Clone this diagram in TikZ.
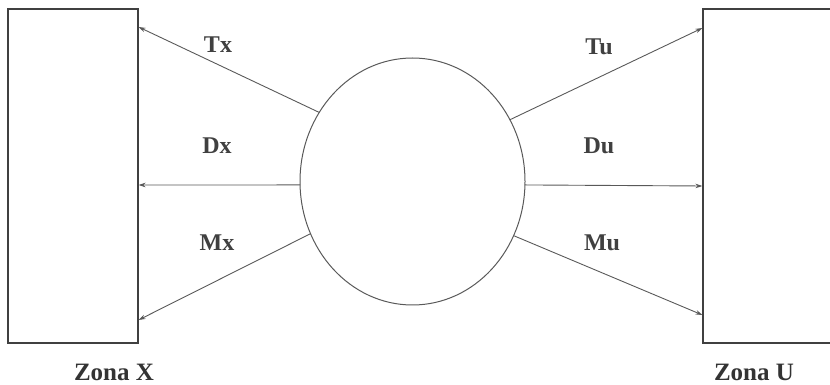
\documentclass[tikz,border=0pt]{standalone}
\usepackage{fontspec}
\setmainfont{Liberation Serif}
\usetikzlibrary{arrows.meta,shapes.geometric}
\begin{document}
\begin{tikzpicture}[x=1pt,y=1pt,
  zone/.style={draw=black!75,line width=1.1pt,minimum height=334pt,inner sep=0pt},
  flow/.style={draw=black!65,line width=0.9pt,-{Stealth[length=7pt,width=4.5pt]}},
  lbl/.style={font=\bfseries\fontsize{24}{28}\selectfont,text=black!75},
  zlbl/.style={font=\bfseries\fontsize{25}{29}\selectfont,text=black!80,inner sep=0pt}]
\useasboundingbox (0,0) rectangle (830,385);
\begin{scope}
\clip (0,0) rectangle (830,385);
\node[zone,minimum width=130pt] (L) at (73,209) {};
\node[zone,minimum width=137pt] (R) at (771.5,209) {};
\end{scope}
\node[draw=black!65,line width=1pt,ellipse,minimum width=225pt,minimum height=247pt,inner sep=0pt] (E) at (412.5,203.5) {};
\coordinate (eT) at ([shift={(146:112.5pt and 123.5pt)}]E.center);
\coordinate (eD) at ([shift={(181.6:112.5pt and 123.5pt)}]E.center);
\coordinate (eM) at ([shift={(205:112.5pt and 123.5pt)}]E.center);
\coordinate (eTu) at ([shift={(30:112.5pt and 123.5pt)}]E.center);
\coordinate (eDu) at ([shift={(-1.6:112.5pt and 123.5pt)}]E.center);
\coordinate (eMu) at ([shift={(-26:112.5pt and 123.5pt)}]E.center);
\coordinate (lT) at ([yshift=149pt]L.east);
\coordinate (lD) at ([yshift=-9pt]L.east);
\coordinate (lM) at ([yshift=-144pt]L.east);
\coordinate (rT) at ([yshift=148pt]R.west);
\coordinate (rD) at ([yshift=-10pt]R.west);
\coordinate (rM) at ([yshift=-139pt]R.west);
\draw[flow] (eT) -- (lT);
\draw[flow] (eD) -- (lD);
\draw[flow] (eM) -- (lM);
\draw[flow] (eTu) -- (rT);
\draw[flow] (eDu) -- (rD);
\draw[flow] (eMu) -- (rM);
\node[lbl] (tx) at (218,340) {Tx};
\node[lbl] (dx) at (217,239) {Dx};
\node[lbl] (mx) at (217,142) {Mx};
\node[lbl] (tu) at (599,338) {Tu};
\node[lbl] (du) at (599,239) {Du};
\node[lbl] (mu) at (602,142) {Mu};
\node[zlbl] (zx) at (114,13) {Zona X};
\node[zlbl] (zu) at (754,13) {Zona U};
\end{tikzpicture}
\end{document}
